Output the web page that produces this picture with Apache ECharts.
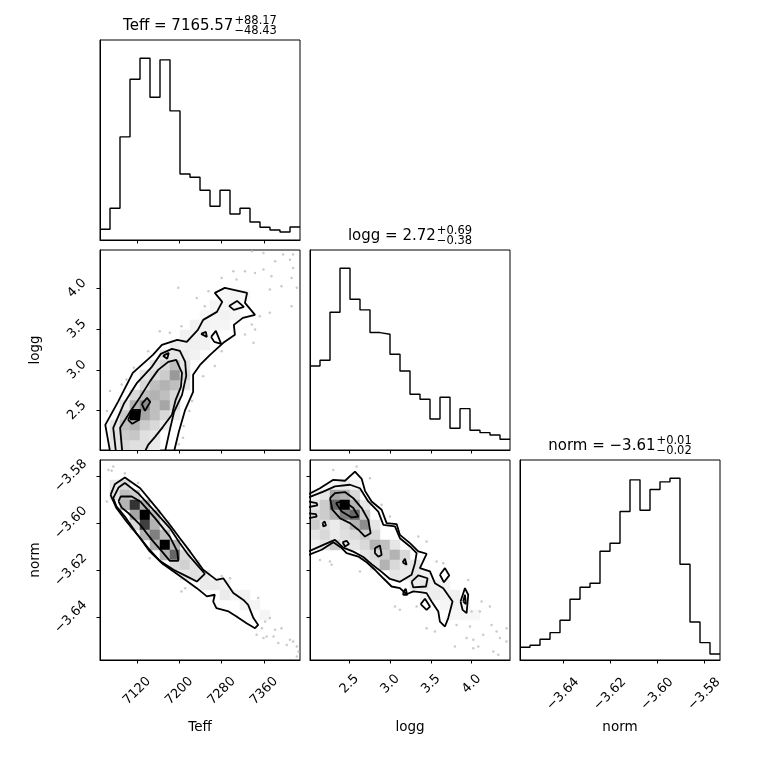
<!DOCTYPE html>
<html><head><meta charset="utf-8">
<script src="https://cdn.jsdelivr.net/npm/echarts@6/dist/echarts.min.js"></script>
<style>html,body{margin:0;padding:0;background:#fff}#c{width:760px;height:760px}</style>
</head><body><div id="c"></div>
<script>
const FONT = 'DejaVu Sans';
// ---- axis ranges & ticks ----
const teffRange = [7050, 7428];
const loggRange = [2.018, 4.469];
const normRange = [-3.6582, -3.5733];
const teffTicks = [7120, 7200, 7280, 7360];
const loggTicks = [2.5, 3.0, 3.5, 4.0];
const normTicks = [-3.64, -3.62, -3.60, -3.58];
// ---- 1D histograms (20 bins) ----
const teffHist = [32,95,309,482,545,428,540,387,198,188,149,101,149,78,95,54,38,30,24,39];
const loggHist = [252,269,413,545,452,420,352,347,287,237,167,152,93,158,65,124,59,52,45,32];
const normHist = [38,44,62,82,119,182,218,230,326,350,445,540,449,511,534,545,287,114,52,18];
// ---- titles ----
const titleNames = ['Teff', 'logg', 'norm'];
const titleValues = ['7165.57', '2.72', '\u22123.61'];
const titlePlus = ['+88.17', '+0.69', '+0.01'];
const titleMinus = ['\u221248.43', '\u22120.38', '\u22120.02'];
// ---- 2D histogram cells [xBin, yBin, density 0..1] ----
const cellsTeffLogg = [[1,0,.1],[2,0,.15],[3,0,.12],[4,0,.12],[5,0,.08],
 [1,1,.12],[2,1,.2],[3,1,.22],[4,1,.12],[5,1,.1],
 [1,2,.1],[2,2,.25],[3,2,.3],[4,2,.2],[5,2,.15],[6,2,.08],
 [2,3,.2],[3,3,1],[4,3,.35],[5,3,.25],[6,3,.15],[7,3,.08],
 [2,4,.1],[3,4,.3],[4,4,.45],[5,4,.25],[6,4,.35],[7,4,.15],
 [3,5,.15],[4,5,.25],[5,5,.3],[6,5,.25],[7,5,.15],
 [4,6,.15],[5,6,.25],[6,6,.3],[7,6,.25],[8,6,.1],
 [4,7,.1],[5,7,.15],[6,7,.2],[7,7,.4],[8,7,.15],
 [5,8,.1],[6,8,.15],[7,8,.25],[8,8,.1],
 [6,9,.1],[7,9,.1],[8,9,.08],[9,9,.05],
 [7,10,.07],[8,10,.06],[9,10,.06],[10,10,.05],
 [8,11,.05],[9,11,.05],[10,11,.05],
 [9,12,.05],[10,12,.05],[11,12,.04],[12,12,.04],
 [10,13,.04],[11,13,.04],[12,13,.05],[13,13,.04],
 [11,14,.04],[12,14,.04],[13,14,.04],
 [12,15,.03],[13,15,.04],[14,15,.03]];
const cellsTeffNorm = [[1,17,.1],[2,17,.15],
 [1,16,.12],[2,16,.25],[3,16,.2],
 [2,15,.3],[3,15,.8],[4,15,.3],
 [3,14,.35],[4,14,1],[5,14,.25],
 [3,13,.15],[4,13,.75],[5,13,.3],[6,13,.1],
 [4,12,.3],[5,12,.5],[6,12,.25],
 [5,11,.3],[6,11,1],[7,11,.3],
 [6,10,.3],[7,10,.6],[8,10,.15],
 [7,9,.15],[8,9,.18],[9,9,.1],
 [8,8,.1],[9,8,.12],[10,8,.08],
 [10,7,.08],[11,7,.08],[12,7,.05],
 [12,6,.08],[13,6,.05],[14,6,.05],
 [14,5,.05],[15,5,.04],[16,4,.04]];
const cellsLoggNorm = [[2,17,.05],[3,17,.08],[4,17,.05],
 [0,16,.05],[1,16,.1],[2,16,.35],[3,16,.3],[4,16,.15],
 [0,15,.1],[1,15,.2],[2,15,.6],[3,15,1],[4,15,.3],[5,15,.1],
 [0,14,.15],[1,14,.2],[2,14,.3],[3,14,.5],[4,14,.6],[5,14,.2],
 [0,13,.2],[1,13,.12],[2,13,.08],[3,13,.15],[4,13,.3],[5,13,.45],[6,13,.1],
 [0,12,.1],[1,12,.15],[2,12,.08],[3,12,.12],[4,12,.15],[5,12,.2],[6,12,.15],
 [0,11,.05],[1,11,.1],[2,11,.2],[3,11,.08],[4,11,.1],[5,11,.15],[6,11,.3],[7,11,.25],[8,11,.1],
 [5,10,.1],[6,10,.15],[7,10,.2],[8,10,.3],[9,10,.15],
 [6,9,.1],[7,9,.3],[8,9,.15],[9,9,.1],[10,9,.1],
 [8,8,.1],[9,8,.08],[10,8,.1],[11,8,.06],
 [10,7,.08],[11,7,.1],[12,7,.06],[13,7,.05],
 [11,6,.05],[12,6,.07],[13,6,.05],[14,6,.06],
 [13,5,.04],[14,5,.05],[15,5,.04],
 [14,4,.03],[15,4,.03],[16,4,.03]];
// ---- contour lines ----
const tlC1 = [[7069,2.0],[7060,2.326],[7084,2.608],[7112,2.963],[7150,3.184],[7167,3.306],[7196,3.368],[7214,3.343],[7235,3.490],[7245,3.613],[7271,3.711],[7281,3.833],[7267,3.943],[7286,4.005],[7328,3.943],[7324,3.821],[7343,3.674],[7320,3.637],[7303,3.551],[7305,3.429],[7283,3.331],[7258,3.184],[7239,3.061],[7226,2.939],[7226,2.731],[7211,2.510],[7199,2.241],[7190,2.0]];
const tlC2 = [[7080,2.0],[7075,2.290],[7095,2.584],[7120,2.841],[7148,3.037],[7165,3.196],[7186,3.257],[7201,3.233],[7211,3.098],[7213,2.927],[7205,2.694],[7190,2.486],[7182,2.265],[7173,2.0]];
const tlC3 = [[7092,2.0],[7088,2.290],[7107,2.486],[7126,2.669],[7145,2.865],[7160,3.0],[7179,3.098],[7194,3.123],[7205,2.963],[7203,2.792],[7193,2.633],[7186,2.449],[7169,2.302],[7154,2.179],[7141,2.081],[7135,2.0]];
const tlI1 = [[7294,3.784],[7309,3.845],[7322,3.772],[7303,3.735],[7294,3.784]];
const tlI2 = [[7241,3.441],[7250,3.466],[7252,3.404],[7241,3.441]];
const tlI3 = [[7260,3.404],[7269,3.478],[7279,3.319],[7266,3.343],[7260,3.404]];
const tlI4 = [[7169,3.172],[7180,3.208],[7177,3.135],[7169,3.172]];
const tlC4a = [[7103,2.388],[7112,2.510],[7126,2.510],[7124,2.388],[7111,2.339],[7103,2.388]];
const tlC4b = [[7129,2.584],[7139,2.657],[7145,2.608],[7135,2.498],[7129,2.584]];

const tnC1 = [[7070,-3.5881],[7078,-3.5836],[7097,-3.5807],[7126,-3.5853],[7157,-3.5937],[7182,-3.6008],[7201,-3.6065],[7220,-3.6121],[7245,-3.6199],[7270,-3.6242],[7283,-3.6235],[7302,-3.6298],[7321,-3.6327],[7330,-3.6348],[7340,-3.6404],[7349,-3.6433],[7343,-3.6447],[7327,-3.6426],[7308,-3.6397],[7293,-3.6376],[7270,-3.6362],[7264,-3.6334],[7267,-3.6305],[7252,-3.6312],[7233,-3.6277],[7207,-3.6235],[7189,-3.6206],[7167,-3.6171],[7144,-3.6121],[7126,-3.6065],[7100,-3.5994],[7081,-3.5937],[7070,-3.5881]];
const tnC2 = [[7075,-3.5895],[7085,-3.5850],[7097,-3.5831],[7122,-3.5874],[7154,-3.5952],[7182,-3.6022],[7201,-3.6086],[7217,-3.6136],[7248,-3.6216],[7233,-3.6249],[7214,-3.6227],[7189,-3.6199],[7163,-3.6161],[7141,-3.6107],[7119,-3.6044],[7097,-3.5973],[7081,-3.5930],[7075,-3.5895]];
const tnC3 = [[7085,-3.5909],[7089,-3.5888],[7110,-3.5888],[7126,-3.5909],[7154,-3.5980],[7182,-3.6058],[7196,-3.6121],[7198,-3.6161],[7182,-3.6161],[7167,-3.6121],[7148,-3.6072],[7126,-3.6008],[7104,-3.5959],[7091,-3.5935],[7085,-3.5909]];

const nlC1 = [[2.0,-3.5878],[2.140,-3.5853],[2.304,-3.5817],[2.447,-3.5821],[2.569,-3.5782],[2.651,-3.5813],[2.692,-3.5864],[2.773,-3.5909],[2.896,-3.5944],[2.957,-3.6001],[3.080,-3.6005],[3.120,-3.6051],[3.243,-3.6086],[3.345,-3.6121],[3.447,-3.6131],[3.365,-3.6192],[3.488,-3.6206],[3.549,-3.6256],[3.651,-3.6277],[3.765,-3.6334],[3.712,-3.6404],[3.672,-3.6440],[3.610,-3.6419],[3.590,-3.6376],[3.508,-3.6334],[3.447,-3.6298],[3.365,-3.6294],[3.284,-3.6291],[3.202,-3.6303],[3.120,-3.6277],[3.018,-3.6270],[2.916,-3.6235],[2.814,-3.6199],[2.712,-3.6167],[2.610,-3.6143],[2.467,-3.6128],[2.406,-3.6107],[2.304,-3.6082],[2.161,-3.6114],[2.0,-3.6136]];
const nlC2 = [[2.0,-3.5892],[2.181,-3.5867],[2.324,-3.5845],[2.508,-3.5838],[2.630,-3.5853],[2.732,-3.5909],[2.855,-3.5952],[2.916,-3.6008],[3.059,-3.6015],[3.120,-3.6065],[3.243,-3.6100],[3.325,-3.6128],[3.304,-3.6171],[3.263,-3.6220],[3.120,-3.6250],[2.998,-3.6238],[2.896,-3.6208],[2.773,-3.6175],[2.671,-3.6145],[2.549,-3.6122],[2.426,-3.6105],[2.324,-3.6072],[2.181,-3.6093],[2.0,-3.6121]];
const nlC3 = [[2.263,-3.5895],[2.324,-3.5874],[2.447,-3.5869],[2.549,-3.5895],[2.651,-3.5937],[2.732,-3.5987],[2.761,-3.6044],[2.692,-3.6058],[2.610,-3.6029],[2.508,-3.6001],[2.385,-3.5980],[2.292,-3.5944],[2.263,-3.5895]];
const nlC4 = [[2.336,-3.5916],[2.426,-3.5906],[2.549,-3.5937],[2.610,-3.5973],[2.528,-3.5977],[2.406,-3.5952],[2.336,-3.5916]];
const nlL1 = [[2.0,-3.5909],[2.100,-3.5916],[2.108,-3.5926],[2.0,-3.5933]];
const nlL2 = [[2.0,-3.5959],[2.091,-3.5963],[2.100,-3.5973],[2.0,-3.5980]];
const nlL3 = [[2.173,-3.6001],[2.198,-3.5994],[2.214,-3.6011],[2.181,-3.6015],[2.173,-3.6001]];
const nlL4 = [[2.418,-3.6082],[2.467,-3.6076],[2.496,-3.6090],[2.447,-3.6100],[2.418,-3.6082]];
const nlL5 = [[2.814,-3.6107],[2.875,-3.6096],[2.896,-3.6136],[2.855,-3.6143],[2.814,-3.6128],[2.814,-3.6107]];
const nlL6 = [[3.153,-3.6167],[3.182,-3.6152],[3.202,-3.6178],[3.153,-3.6167]];
const nlL7 = [[3.263,-3.6249],[3.345,-3.6223],[3.459,-3.6235],[3.439,-3.6270],[3.284,-3.6274],[3.263,-3.6249]];
const nlL8 = [[3.161,-3.6294],[3.190,-3.6280],[3.210,-3.6305],[3.161,-3.6305],[3.161,-3.6294]];
const nlL9 = [[3.374,-3.6345],[3.427,-3.6322],[3.488,-3.6355],[3.447,-3.6369],[3.374,-3.6345]];
const nlL10 = [[3.610,-3.6220],[3.672,-3.6192],[3.725,-3.6223],[3.659,-3.6252],[3.610,-3.6220]];
const nlL11 = [[3.863,-3.6334],[3.917,-3.6277],[3.957,-3.6305],[3.937,-3.6383],[3.888,-3.6369],[3.863,-3.6334]];
const nlL12 = [[3.896,-3.6334],[3.917,-3.6305],[3.929,-3.6345],[3.896,-3.6334]];
// ---- scattered samples outside contours ----
const ptsTeffLogg = [[7337,4.453],[7359,4.433],[7396,4.413],[7381,4.331],[7409,4.351],[7415,4.249],[7302,4.209],[7324,4.209],[7343,4.188],[7359,4.229],[7374,4.147],[7412,4.127],[7393,4.025],[7371,3.984],[7422,4.005],[7352,3.658],[7371,3.699],[7412,3.780],[7280,4.127],[7255,3.964],[7233,3.882],[7198,4.005],[7248,3.780],[7337,3.556],[7324,3.433],[7340,3.331],[7343,3.495],[7280,3.229],[7267,3.046],[7245,2.923],[7224,2.617],[7219,2.495],[7208,2.311],[7199,2.087],[7207,2.169],[7069,2.740],[7063,2.495],[7091,2.821],[7100,2.883],[7114,3.025],[7141,3.229],[7182,3.454],[7163,3.474],[7204,3.535],[7318,4.474],[7415,4.413],[7308,4.107]];
const ptsTeffNorm = [[7066,-3.5775],[7075,-3.5761],[7072,-3.5779],[7097,-3.5789],[7063,-3.5909],[7122,-3.5831],[7211,-3.6277],[7204,-3.6291],[7296,-3.6235],[7280,-3.6225],[7349,-3.6319],[7371,-3.6404],[7362,-3.6419],[7356,-3.6447],[7365,-3.6482],[7381,-3.6454],[7359,-3.6489],[7378,-3.6482],[7393,-3.6447],[7387,-3.6510],[7409,-3.6496],[7415,-3.6503],[7422,-3.6525],[7425,-3.6546],[7422,-3.6567],[7403,-3.6518],[7346,-3.6475],[7144,-3.6150]];
const ptsLoggNorm = [[2.304,-3.5775],[2.590,-3.5761],[2.753,-3.5810],[2.896,-3.5923],[2.998,-3.5973],[3.345,-3.6058],[3.447,-3.6079],[2.140,-3.6157],[2.263,-3.6164],[2.283,-3.6178],[2.630,-3.6206],[3.059,-3.6355],[3.120,-3.6369],[3.325,-3.6355],[3.447,-3.6447],[3.549,-3.6461],[3.794,-3.6525],[3.937,-3.6489],[4.019,-3.6532],[4.080,-3.6525],[4.141,-3.6475],[4.243,-3.6433],[4.304,-3.6461],[4.345,-3.6489],[4.426,-3.6503],[4.426,-3.6447],[3.998,-3.6376],[4.100,-3.6376],[4.121,-3.6334],[3.957,-3.6242],[3.651,-3.6171],[3.570,-3.6164],[4.223,-3.6355],[3.978,-3.6440],[3.814,-3.6433],[4.019,-3.6496],[4.264,-3.6546],[4.325,-3.6560]];

// ---------------- build chart ----------------
const cols = [100, 310, 520], rows = [40, 250, 460], SZ = 200;
// grid index: 0 Teff hist, 1 logg|Teff, 2 logg hist, 3 norm|Teff, 4 norm|logg, 5 norm hist
const gridPos = [[0,0],[0,1],[1,1],[0,2],[1,2],[2,2]];
const grids = gridPos.map(([c,r]) => ({left: cols[c], top: rows[r], width: SZ, height: SZ,
  show: true, borderColor: '#000', borderWidth: 1, backgroundColor: 'transparent', containLabel: false}));

const fmtTeff = v => String(Math.round(v));
const fmtLogg = v => v.toFixed(1);
const fmtNorm = v => v.toFixed(2).replace('-', '\u2212');
const tickTxt = {fontFamily: FONT, fontSize: 13, color: '#000'};
const nameTxt = {fontFamily: FONT, fontSize: 13.5, color: '#000'};

function mkAxis(dir, gi, range, ticks, showLabels, fmt, margin, name) {
  return {type: 'value', gridIndex: gi, min: range[0], max: range[1], z: 10,
    axisLine: {show: true, onZero: false, lineStyle: {color: '#000', width: 1}},
    splitLine: {show: false},
    axisTick: {show: true, length: 3.5, lineStyle: {color: '#000', width: 1}, customValues: ticks},
    axisLabel: Object.assign({show: showLabels, customValues: ticks, formatter: fmt, rotate: 45,
      align: 'center', verticalAlign: 'middle', margin: margin}, tickTxt),
    name: name || '', nameLocation: 'middle', nameGap: dir === 'x' ? 60 : 58,
    nameTextStyle: nameTxt};
}
function histY(gi, hist) {
  return {type: 'value', gridIndex: gi, min: 0, max: 1.1 * Math.max(...hist),
    axisLine: {show: true, lineStyle: {color: '#000'}}, axisTick: {show: false},
    axisLabel: {show: false}, splitLine: {show: false}};
}
const xAxes = [
  mkAxis('x', 0, teffRange, teffTicks, false, fmtTeff, 31),
  mkAxis('x', 1, teffRange, teffTicks, false, fmtTeff, 31),
  mkAxis('x', 2, loggRange, loggTicks, false, fmtLogg, 24),
  mkAxis('x', 3, teffRange, teffTicks, true, fmtTeff, 31, 'Teff'),
  mkAxis('x', 4, loggRange, loggTicks, true, fmtLogg, 24, 'logg'),
  mkAxis('x', 5, normRange, normTicks, true, fmtNorm, 34, 'norm')
];
const yAxes = [
  histY(0, teffHist),
  mkAxis('y', 1, loggRange, loggTicks, true, fmtLogg, 23, 'logg'),
  histY(2, loggHist),
  mkAxis('y', 3, normRange, normTicks, true, fmtNorm, 29, 'norm'),
  mkAxis('y', 4, normRange, normTicks, false, fmtNorm, 29),
  histY(5, normHist)
];

function histSeries(gi, hist, range) {
  const n = hist.length, w = (range[1] - range[0]) / n;
  const d = hist.map((c, k) => [range[0] + k * w, c]);
  d.push([range[1], hist[n - 1]]);
  return {type: 'line', xAxisIndex: gi, yAxisIndex: gi, data: d, step: 'end', symbol: 'none',
    lineStyle: {color: '#000', width: 1.4}, silent: true, animation: false, z: 3};
}
function cellSeries(gi, cells, xr, yr) {
  const dx = (xr[1] - xr[0]) / 20, dy = (yr[1] - yr[0]) / 20;
  const data = cells.map(([i, j, v]) => [xr[0] + (i + 0.5) * dx, yr[0] + (j + 0.5) * dy, v]);
  return {type: 'custom', xAxisIndex: gi, yAxisIndex: gi, data, clip: true, silent: true, animation: false, z: 1,
    renderItem(params, api) {
      const cx = api.value(0), cy = api.value(1), v = api.value(2);
      const p0 = api.coord([cx - dx / 2, cy - dy / 2]);
      const p1 = api.coord([cx + dx / 2, cy + dy / 2]);
      const g = Math.round(255 * (1 - v));
      const col = 'rgb(' + g + ',' + g + ',' + g + ')';
      return {type: 'rect', shape: {x: Math.min(p0[0], p1[0]), y: Math.min(p0[1], p1[1]),
        width: Math.abs(p1[0] - p0[0]), height: Math.abs(p1[1] - p0[1])},
        style: {fill: col, stroke: col, lineWidth: 0.5}};
    }};
}
function lineSeries(gi, pts) {
  return {type: 'line', xAxisIndex: gi, yAxisIndex: gi, data: pts, symbol: 'none', smooth: false,
    lineStyle: {color: '#000', width: 1.8}, silent: true, animation: false, z: 4, clip: true};
}
function dotSeries(gi, pts) {
  return {type: 'scatter', xAxisIndex: gi, yAxisIndex: gi, data: pts, symbolSize: 2.5,
    itemStyle: {color: '#bdbdbd'}, silent: true, animation: false, z: 2};
}

const series = [
  histSeries(0, teffHist, teffRange),
  histSeries(2, loggHist, loggRange),
  histSeries(5, normHist, normRange),
  cellSeries(1, cellsTeffLogg, teffRange, loggRange),
  cellSeries(3, cellsTeffNorm, teffRange, normRange),
  cellSeries(4, cellsLoggNorm, loggRange, normRange),
  dotSeries(1, ptsTeffLogg), dotSeries(3, ptsTeffNorm), dotSeries(4, ptsLoggNorm)
];
[tlC1, tlC2, tlC3, tlI1, tlI2, tlI3, tlI4, tlC4a, tlC4b].forEach(p => series.push(lineSeries(1, p)));
[tnC1, tnC2, tnC3].forEach(p => series.push(lineSeries(3, p)));
[nlC1, nlC2, nlC3, nlC4, nlL1, nlL2, nlL3, nlL4, nlL5, nlL6, nlL7, nlL8, nlL9, nlL10, nlL11, nlL12].forEach(p => series.push(lineSeries(4, p)));

// titles with stacked super/subscripts
const TMAIN = 15, TSUP = 11.5;
const mctx = document.createElement('canvas').getContext('2d');
function tw(t, s) { mctx.font = s + 'px "' + FONT + '"'; return mctx.measureText(t).width; }
const graphics = [];
for (let k = 0; k < 3; k++) {
  const main = titleNames[k] + ' = ' + titleValues[k];
  const wM = tw(main, TMAIN), wS = Math.max(tw(titlePlus[k], TSUP), tw(titleMinus[k], TSUP));
  const cx = cols[k] + SZ / 2, top = rows[k];
  const left = cx - (wM + wS + 1) / 2;
  graphics.push({type: 'text', x: left, y: top - 14, silent: true,
    style: {text: main, fontFamily: FONT, fontSize: TMAIN, fill: '#000', align: 'left', verticalAlign: 'middle'}});
  graphics.push({type: 'text', x: left + wM + 1, y: top - 18.5, silent: true,
    style: {text: titlePlus[k], fontFamily: FONT, fontSize: TSUP, fill: '#000', align: 'left', verticalAlign: 'middle'}});
  graphics.push({type: 'text', x: left + wM + 1, y: top - 9, silent: true,
    style: {text: titleMinus[k], fontFamily: FONT, fontSize: TSUP, fill: '#000', align: 'left', verticalAlign: 'middle'}});
}

const chart = echarts.init(document.getElementById('c'), null, {renderer: 'canvas'});
chart.setOption({
  animation: false,
  backgroundColor: '#fff',
  grid: grids,
  xAxis: xAxes,
  yAxis: yAxes,
  series: series,
  graphic: graphics
});
</script></body></html>
